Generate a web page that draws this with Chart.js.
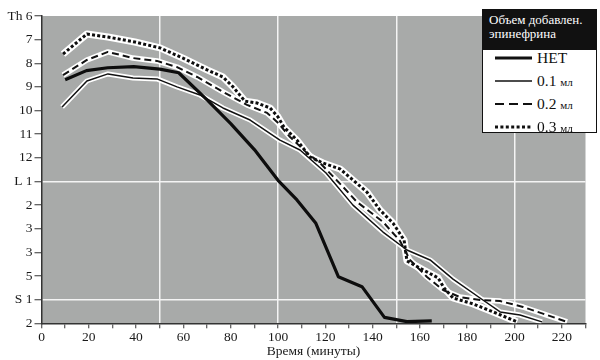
<!DOCTYPE html>
<html>
<head>
<meta charset="utf-8">
<script src="https://cdn.jsdelivr.net/npm/chart.js@4.4.1/dist/chart.umd.min.js"></script>
<style>
  html,body{margin:0;padding:0;background:#fff;}
  #wrap{position:relative;width:600px;height:360px;}
  #legend, #legend *{font-family:"Liberation Serif","DejaVu Serif",serif;}
  #legend{position:absolute;left:482px;top:9px;width:115px;height:124px;border:1px solid #111;background:#fff;color:#111;box-sizing:border-box;}
  #legend .hdr{position:absolute;left:0;top:0;width:100%;height:40px;background:#111;color:#fff;font-size:13px;line-height:14px;padding:3px 0 0 6px;box-sizing:border-box;white-space:nowrap;}
  #legend .row{position:absolute;left:0;width:100%;height:20px;}
  #legend svg{position:absolute;left:12px;top:4px;}
  #legend .lab{position:absolute;left:54px;top:0;font-size:15.5px;line-height:20px;white-space:nowrap;}
  #legend .lab small{font-size:11px;}
</style>
</head>
<body>
<div id="wrap">
<canvas id="c" width="600" height="360"></canvas>
<div id="legend">
  <div class="hdr">Объем добавлен.<br>эпинефрина</div>
  <div class="row" style="top:38px"><svg width="38" height="12"><line x1="0" y1="6" x2="37" y2="6" stroke="#111" stroke-width="3.2"/></svg><div class="lab">НЕТ</div></div>
  <div class="row" style="top:61px"><svg width="38" height="12"><line x1="0" y1="6" x2="37" y2="6" stroke="#111" stroke-width="1.5"/></svg><div class="lab">0.1 <small>мл</small></div></div>
  <div class="row" style="top:84px"><svg width="38" height="12"><line x1="0" y1="6" x2="37" y2="6" stroke="#111" stroke-width="2" stroke-dasharray="9 5"/></svg><div class="lab">0.2 <small>мл</small></div></div>
  <div class="row" style="top:107px"><svg width="38" height="12"><line x1="0" y1="6" x2="37" y2="6" stroke="#111" stroke-width="3" stroke-dasharray="3 2.4"/></svg><div class="lab">0.3 <small>мл</small></div></div>
</div>
</div>
<script>
// Vertebral levels (y axis tick labels), top to bottom
const yLabels = ['Th 6','7','8','9','10','11','12','L 1','2','3','3','5','S 1','2'];

// Series: time (minutes) and level index (0 = Th 6 ... 13 = S 2)
const tNet = [10, 19, 28, 39, 50, 58, 70, 80, 90, 100, 108, 116, 125.5, 135.5, 145, 154.5, 165];
const vNet = [2.7, 2.31, 2.19, 2.14, 2.25, 2.4, 3.55, 4.55, 5.65, 6.95, 7.78, 8.77, 11.03, 11.45, 12.75, 12.93, 12.9];

const t01 = [8.7, 19.2, 28.1, 38.7, 48.8, 57.3, 67, 76.7, 88.2, 100.8, 109.3, 120.3, 131.7, 144.4, 154.5, 164.3, 174, 185.4, 193.9, 202.3, 211.6];
const v01 = [3.85, 2.75, 2.45, 2.62, 2.66, 3.0, 3.34, 3.89, 4.4, 5.25, 5.67, 6.64, 8.0, 9.14, 9.9, 10.32, 11.13, 11.93, 12.52, 12.65, 12.94];

const t02 = [9.1, 19.2, 28.1, 38.7, 48.8, 57.3, 65.8, 76.7, 86.9, 95.4, 99.6, 105.1, 112.3, 117.8, 127.5, 133.4, 144.4, 151.6, 155.8, 163, 169.8, 176.9, 185.4, 193.9, 203.6, 213.7, 222.2];
const v02 = [2.5, 1.86, 1.52, 1.78, 1.9, 2.16, 2.58, 3.21, 3.76, 4.1, 4.48, 5.12, 5.8, 6.22, 7.23, 7.87, 8.71, 9.52, 10.32, 11.04, 11.59, 11.89, 12.01, 12.06, 12.31, 12.65, 12.94];

const t03 = [9.1, 19.2, 28.1, 39.5, 50.1, 59.8, 70, 76.7, 81, 86, 91.1, 96.6, 100, 102.5, 108, 113.5, 119, 126.2, 131.7, 137.6, 143.1, 148.6, 153.3, 154.5, 161.3, 167.7, 170.2, 174, 182.5, 191, 201.1];
const v03 = [1.61, 0.76, 0.89, 1.1, 1.35, 1.78, 2.28, 2.58, 3.0, 3.6, 3.68, 3.89, 4.27, 4.7, 5.25, 5.96, 6.22, 6.47, 6.94, 7.45, 8.21, 8.76, 9.48, 10.36, 10.74, 11.08, 11.51, 11.93, 12.18, 12.52, 12.94];

const xTicks = {min: 0, max: 230, step: 10};
const xGridAt = [50, 100, 150, 200];
const yGridAt = [7, 12];

function pts(t, v) { return t.map((x, i) => ({x: x, y: v[i]})); }

const font = {family: "'Liberation Serif', 'DejaVu Serif', serif", size: 13.5};
const ink = '#1a1a1a';

const plotBg = {
  id: 'plotBg',
  beforeDraw(chart) {
    const {ctx, chartArea: a} = chart;
    ctx.save();
    ctx.fillStyle = '#a8aaa9';
    ctx.fillRect(a.left, a.top, a.right - a.left, a.bottom - a.top);
    ctx.restore();
  }
};

const base = {pointRadius: 0, tension: 0, fill: false, borderJoinStyle: 'round'};

new Chart(document.getElementById('c'), {
  type: 'line',
  data: {
    datasets: [
      Object.assign({}, base, {data: pts(t01, v01), borderColor: '#fff', borderWidth: 5, order: 5}),
      Object.assign({}, base, {data: pts(t02, v02), borderColor: '#fff', borderWidth: 5.5, order: 5}),
      Object.assign({}, base, {data: pts(t03, v03), borderColor: '#fff', borderWidth: 7, order: 5}),
      Object.assign({}, base, {label: 'НЕТ', data: pts(tNet, vNet), borderColor: '#0d0d0d', borderWidth: 3.2, order: 1}),
      Object.assign({}, base, {label: '0.1 мл', data: pts(t01, v01), borderColor: '#111', borderWidth: 1.5, order: 1}),
      Object.assign({}, base, {label: '0.2 мл', data: pts(t02, v02), borderColor: '#111', borderWidth: 2, borderDash: [7, 4], order: 1}),
      Object.assign({}, base, {label: '0.3 мл', data: pts(t03, v03), borderColor: '#0d0d0d', borderWidth: 3, borderDash: [3, 2.2], borderCapStyle: 'butt', order: 1})
    ]
  },
  options: {
    responsive: false,
    animation: false,
    layout: {padding: {top: 16, right: 14.5, left: 0, bottom: 0}},
    plugins: {legend: {display: false}, tooltip: {enabled: false}},
    scales: {
      x: {
        type: 'linear', min: xTicks.min, max: xTicks.max,
        ticks: {
          stepSize: xTicks.step, autoSkip: false, maxRotation: 0, color: ink, font: font, padding: 1,
          callback: v => (v % 20 === 0 && v <= 220) ? String(v) : ''
        },
        grid: {
          color: c => (c.tick && xGridAt.includes(c.tick.value)) ? '#f4f4f4' : 'rgba(0,0,0,0)',
          lineWidth: 1.5, tickColor: '#333', tickLength: 5, tickWidth: 1
        },
        border: {color: '#333', width: 1.5},
        title: {display: true, text: 'Время (минуты)', color: ink, font: font, padding: {top: 0, bottom: 0}},
        afterFit: s => { s.height = 36.7; }
      },
      y: {
        type: 'linear', reverse: true, min: 0, max: 13,
        ticks: {stepSize: 1, autoSkip: false, color: ink, font: font, padding: 2, callback: v => yLabels[v]},
        grid: {
          color: c => (c.tick && yGridAt.includes(c.tick.value)) ? '#f4f4f4' : 'rgba(0,0,0,0)',
          lineWidth: 1.5, tickColor: '#333', tickLength: 7, tickWidth: 1
        },
        border: {color: '#333', width: 1.5},
        afterFit: s => { s.width = 41.5; }
      }
    }
  },
  plugins: [plotBg]
});
</script>
</body>
</html>
